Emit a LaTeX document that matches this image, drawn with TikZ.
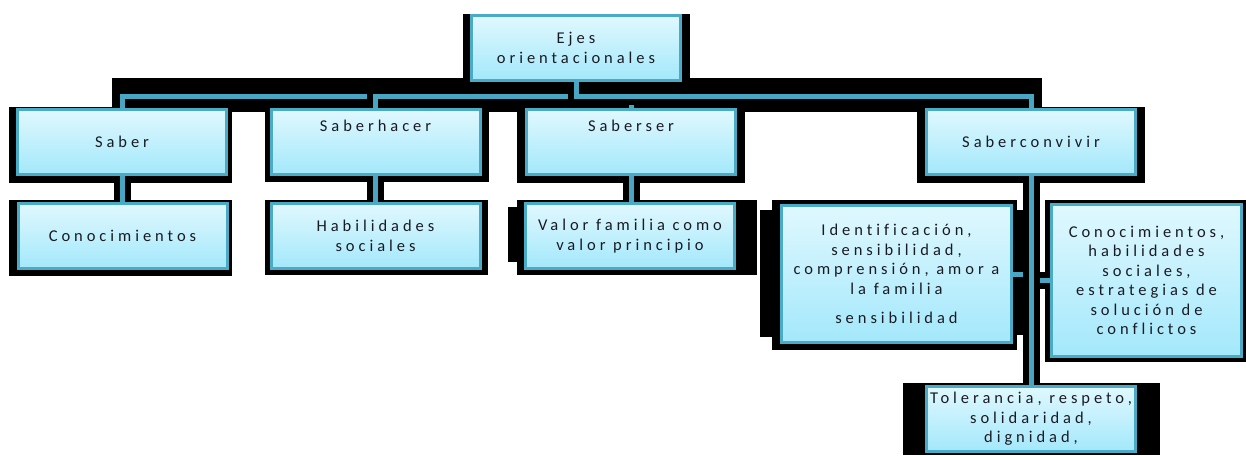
\documentclass[tikz,border=0pt]{standalone}
\usepackage{fontspec}
\newfontfamily\boxfont{Carlito}[LetterSpace=24, Ligatures=NoCommon]
\usetikzlibrary{backgrounds}
\definecolor{boxtop}{HTML}{E0F8FE}
\definecolor{boxbot}{HTML}{A3E8FB}
\definecolor{boxblue}{HTML}{4AABC6}
\definecolor{connblue}{HTML}{49A6C2}
\definecolor{textdark}{HTML}{1A1A22}
\begin{document}
\begin{tikzpicture}[x=1pt,y=-1pt,
  box/.style={draw=boxblue, line width=3pt, top color=boxtop, bottom color=boxbot,
    minimum width=209pt, minimum height=65pt, inner sep=2pt, align=center,
    font=\boxfont\fontsize{16.5}{19.5}\selectfont, text=textdark},
  topbox/.style={box, text height=19pt, text depth=40pt, inner ysep=3pt},
  conn/.style={draw=connblue, line width=5pt, preaction={draw=black, line width=17pt}},
  shadowfill/.style={fill=black}]
\useasboundingbox (0,0) rectangle (1246,455);

\node[box] (ejes) at (576,48) {Ejes\\orientacionales};
\node[box] (saber) at (122,142) {Saber};
\node[topbox] (hacer) at (375.5,142) {Saberhacer};
\node[topbox] (ser) at (631,142) {Saberser};
\node[box] (conv) at (1031,141.5) {Saberconvivir};
\node[box] (cono) at (122.5,236) {Conocimientos};
\node[box] (hab) at (375.5,236) {Habilidades\\sociales};
\node[box] (valor) at (630,236) {Valor familia como\\valor principio};
\node[box, minimum width=230pt, minimum height=137pt] (ident) at (896.5,274)
  {Identificación,\\sensibilidad,\\comprensión, amor a\\la familia\\[10pt]sensibilidad};
\node[box, minimum width=190pt, minimum height=152pt] (cono2) at (1146.5,280.5)
  {Conocimientos,\\habilidades\\sociales,\\estrategias de\\solución de\\conflictos};
\node[box] (tol) at (1031,419) {Tolerancia, respeto,\\solidaridad,\\dignidad,};

\begin{scope}[on background layer]
  \fill[shadowfill] (463,14) rectangle (690,88);
  \fill[shadowfill] (112,78) rectangle (1042,112);
  \fill[shadowfill] (9,107) rectangle (232,183);
  \fill[shadowfill] (265,107) rectangle (489,182);
  \fill[shadowfill] (517,107) rectangle (745,183);
  \fill[shadowfill] (917,107) rectangle (1145,183);
  \fill[shadowfill] (9,200) rectangle (232,276);
  \fill[shadowfill] (265,200) rectangle (488,275);
  \fill[shadowfill] (517,200) rectangle (757,275);
  \fill[shadowfill] (508,207) rectangle (517,262);
  \fill[shadowfill] (772,200) rectangle (1017,350);
  \fill[shadowfill] (760,210) rectangle (772,337);
  \fill[shadowfill] (1013,210) rectangle (1040,335);
  \fill[shadowfill] (1045,200) rectangle (1246,362);
  \fill[shadowfill] (903,383) rectangle (1160,455);

  \draw[conn] (ejes.south) -- ++(0,14) -| (saber.north);
  \draw[conn] (ejes.south) -- ++(0,14) -| (hacer.north);
  \draw[conn] (ejes.south) -- ++(0,14) -| (ser.north);
  \draw[conn] (ejes.south) -- ++(0,14) -| (conv.north);
  \draw[conn] (saber.south) -- (saber.south |- cono.north);
  \draw[conn] (hacer.south) -- (hab.north);
  \draw[conn] (ser.south) -- (ser.south |- valor.north);
  \draw[conn] (conv.south) |- (ident.east);
  \draw[conn] (conv.south) |- (cono2.west);
  \draw[conn] (conv.south) -- (tol.north);
\end{scope}
\end{tikzpicture}
\end{document}
